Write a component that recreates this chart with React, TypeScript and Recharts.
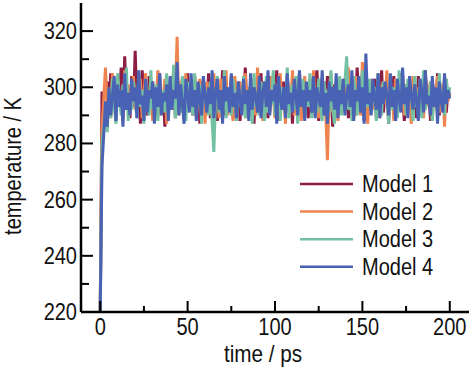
import React from "react";
import { LineChart, Line, XAxis, YAxis, Legend } from "recharts";

// time in ps, one frame per ps
const TIME = Array.from({ length: 201 }, (_, i) => i);

const MODEL_1 = [
  220, 298, 298, 296, 302, 291, 305, 294, 299, 288, 303, 297, 307, 290, 311, 295, 300, 289, 304, 293,
  313, 292, 301, 287, 306, 296, 299, 290, 304, 293, 302, 288, 300, 295, 305, 291, 298, 286, 303, 297,
  300, 292, 306, 289, 301, 297, 294, 303, 288, 299, 305, 292, 298, 290, 304, 296, 301, 287, 302, 294,
  299, 291, 305, 289, 300, 296, 303, 288, 298, 293, 306, 290, 301, 297, 292, 304, 289, 299, 295, 302,
  288, 300, 294, 307, 291, 298, 296, 303, 287, 301, 293, 299, 305, 290, 297, 302, 289, 304, 294, 300,
  292, 306, 288, 299, 296, 302, 290, 304, 295, 300, 287, 303, 293, 298, 305, 291, 299, 294, 301, 289,
  303, 296, 292, 300, 306, 288, 298, 294, 302, 290, 304, 297, 299, 286, 301, 295, 303, 291, 298, 300,
  293, 305, 289, 299, 296, 302, 290, 307, 294, 298, 301, 288, 304, 295, 292, 300, 297, 303, 289, 299,
  294, 306, 291, 298, 302, 287, 300, 296, 304, 290, 299, 293, 305, 297, 288, 301, 295, 303, 292, 298,
  300, 289, 304, 296, 299, 291, 306, 294, 298, 288, 302, 297, 293, 305, 290, 300, 295, 303, 291, 299,
  297,
];

const MODEL_2 = [
  220, 285, 296, 307, 293, 300, 289, 305, 297, 291, 303, 295, 299, 288, 306, 294, 301, 290, 298, 304,
  292, 300, 295, 303, 289, 298, 305, 291, 297, 302, 288, 300, 294, 306, 290, 299, 296, 303, 287, 301,
  295, 304, 292, 299, 318, 290, 302, 296, 288, 305, 293, 300, 297, 291, 304, 289, 298, 303, 294, 300,
  287, 302, 296, 299, 291, 305, 294, 300, 289, 303, 297, 292, 306, 290, 298, 301, 288, 304, 295, 299,
  302, 291, 297, 305, 289, 300, 294, 303, 296, 290, 307, 293, 299, 288, 302, 295, 300, 291, 304, 297,
  289, 301, 296, 305, 292, 298, 287, 303, 299, 294, 306, 290, 300, 295, 302, 288, 297, 304, 293, 299,
  301, 290, 306, 295, 298, 289, 303, 294, 300, 292, 274, 299, 305, 291, 297, 302, 288, 300, 296, 303,
  291, 298, 307, 293, 300, 288, 304, 296, 299, 290, 309, 294, 301, 287, 298, 303, 292, 300, 295, 305,
  289, 299, 302, 294, 306, 291, 297, 300, 288, 303, 295, 299, 292, 305, 290, 301, 296, 298, 287, 304,
  294, 300, 291, 303, 297, 289, 305, 293, 299, 302, 288, 300, 296, 304, 291, 298, 301, 286, 303, 295,
  298,
];

const MODEL_3 = [
  220, 280, 286, 291, 284, 299, 289, 303, 293, 287, 305, 296, 290, 301, 294, 307, 288, 298, 292, 302,
  296, 289, 304, 293, 299, 287, 302, 295, 290, 306, 292, 298, 301, 288, 303, 294, 299, 291, 305, 290,
  298, 293, 308, 289, 300, 295, 291, 304, 297, 288, 302, 294, 299, 290, 305, 292, 297, 301, 287, 303,
  294, 299, 290, 302, 288, 277, 296, 304, 291, 298, 293, 306, 289, 300, 295, 290, 303, 297, 288, 301,
  295, 292, 304, 289, 299, 296, 301, 287, 305, 293, 298, 290, 302, 296, 288, 304, 291, 299, 294, 306,
  290, 297, 302, 288, 300, 295, 293, 307, 289, 298, 301, 292, 304, 287, 299, 296, 303, 290, 298, 293,
  305, 289, 300, 296, 291, 303, 294, 288, 302, 297, 299, 291, 306, 293, 287, 300, 295, 304, 290, 298,
  302, 311, 292, 299, 288, 304, 296, 290, 301, 294, 306, 289, 298, 293, 303, 291, 297, 300, 288, 305,
  295, 290, 302, 297, 299, 287, 304, 292, 300, 296, 289, 306, 293, 298, 301, 290, 303, 295, 299, 288,
  304, 293, 297, 300, 289, 306, 292, 298, 295, 302, 288, 300, 296, 291, 305, 294, 299, 290, 303, 296,
  300,
];

const MODEL_4 = [
  220, 272, 283, 295, 286, 300, 290, 297, 304, 288, 301, 293, 299, 286, 305, 292, 298, 290, 303, 295,
  300, 289, 306, 294, 297, 288, 303, 291, 299, 296, 302, 287, 300, 293, 305, 290, 298, 295, 301, 288,
  304, 292, 299, 296, 309, 290, 301, 294, 287, 303, 297, 291, 305, 293, 299, 288, 302, 296, 290, 304,
  297, 291, 300, 294, 306, 289, 298, 303, 292, 299, 287, 304, 295, 300, 291, 305, 293, 298, 289, 302,
  296, 290, 303, 294, 299, 288, 305, 292, 300, 297, 291, 304, 289, 298, 302, 293, 306, 290, 299, 295,
  301, 287, 304, 296, 292, 300, 289, 305, 294, 298, 291, 303, 297, 290, 306, 293, 299, 288, 302, 295,
  299, 291, 304, 289, 300, 296, 293, 306, 290, 298, 287, 302, 295, 300, 292, 305, 289, 299, 294, 303,
  290, 297, 301, 293, 306, 288, 299, 295, 304, 291, 300, 287, 312, 294, 298, 290, 303, 296, 292, 305,
  289, 300, 294, 302, 297, 290, 305, 293, 299, 288, 303, 296, 291, 307, 294, 300, 289, 304, 297, 292,
  301, 295, 288, 303, 299, 291, 306, 294, 297, 290, 304, 293, 300, 287, 302, 296, 291, 305, 294, 299,
  296,
];

const SERIES = [
  { key: "m1", name: "Model 1", color: "#8c1d45", values: MODEL_1 },
  { key: "m2", name: "Model 2", color: "#ef8450", values: MODEL_2 },
  { key: "m3", name: "Model 3", color: "#74c0a2", values: MODEL_3 },
  { key: "m4", name: "Model 4", color: "#4a62b3", values: MODEL_4 },
];

const X_TICKS = [0, 25, 50, 75, 100, 125, 150, 175, 200];
const X_LABELS = [0, 50, 100, 150, 200];
const Y_TICKS = [220, 230, 240, 250, 260, 270, 280, 290, 300, 310, 320];
const Y_LABELS = [220, 240, 260, 280, 300, 320];

const FONT = "'Liberation Sans', Arial, sans-serif";

const data = TIME.map((t, i) => {
  const row: Record<string, number> = { t };
  SERIES.forEach((s) => {
    row[s.key] = s.values[i];
  });
  return row;
});

// ticks point into the plot, only every other one gets a label
const XTick = (props: any) => {
  const { x, y, payload } = props;
  const major = X_LABELS.includes(payload.value);
  return (
    <g>
      <line x1={x} x2={x} y1={y} y2={y - (major ? 11 : 6)} stroke="#000" strokeWidth={2} />
      {major && (
        <text
          transform={`translate(${x},${y + 23}) scale(0.87,1)`}
          textAnchor="middle"
          fontSize={23}
          fontFamily={FONT}
          fill="#111"
        >
          {payload.value}
        </text>
      )}
    </g>
  );
};

const YTick = (props: any) => {
  const { x, y, payload } = props;
  const major = Y_LABELS.includes(payload.value);
  return (
    <g>
      <line x1={x} x2={x + (major ? 12 : 8)} y1={y} y2={y} stroke="#000" strokeWidth={2} />
      {major && (
        <text
          transform={`translate(${x - 4},${y + 8}) scale(0.87,1)`}
          textAnchor="end"
          fontSize={23}
          fontFamily={FONT}
          fill="#111"
        >
          {payload.value}
        </text>
      )}
    </g>
  );
};

const renderLegend = (props: any) => {
  const items = props.payload || [];
  return (
    <svg width={170} height={120}>
      {items.map((item: any, i: number) => (
        <g key={item.value} transform={`translate(0,${14 + i * 27.6})`}>
          <line x1={0} x2={53} y1={0} y2={0} stroke={item.color} strokeWidth={2.5} />
          <text
            transform="translate(62,8) scale(0.87,1)"
            fontSize={23}
            fontFamily={FONT}
            fill="#111"
          >
            {item.value}
          </text>
        </g>
      ))}
    </svg>
  );
};

export default function App() {
  return (
    <div style={{ position: "absolute", left: 0, top: 0, width: 474, height: 370, background: "#fff" }}>
      <LineChart width={474} height={370} data={data} margin={{ top: 3, right: 5, left: 0, bottom: 0 }}>
        <XAxis
          dataKey="t"
          type="number"
          domain={[-11, 211]}
          ticks={X_TICKS}
          interval={0}
          tickSize={0}
          tickMargin={0}
          tick={<XTick />}
          height={58}
          axisLine={{ stroke: "#000", strokeWidth: 2.5 }}
          tickLine={false}
        />
        <XAxis
          xAxisId="top"
          orientation="top"
          type="number"
          domain={[-11, 211]}
          height={0}
          tick={false}
          tickLine={false}
          axisLine={{ stroke: "#000", strokeWidth: 2.5 }}
        />
        <YAxis
          type="number"
          domain={[220, 330]}
          ticks={Y_TICKS}
          interval={0}
          tickSize={0}
          tickMargin={0}
          tick={<YTick />}
          width={81}
          allowDataOverflow
          axisLine={{ stroke: "#000", strokeWidth: 2.5 }}
          tickLine={false}
        />
        <YAxis
          yAxisId="right"
          orientation="right"
          type="number"
          domain={[220, 330]}
          width={0}
          tick={false}
          tickLine={false}
          axisLine={{ stroke: "#000", strokeWidth: 2.5 }}
        />
        {SERIES.map((s) => (
          <Line
            key={s.key}
            dataKey={s.key}
            name={s.name}
            stroke={s.color}
            strokeWidth={3}
            strokeLinejoin="miter"
            dot={false}
            activeDot={false}
            type="linear"
            isAnimationActive={false}
          />
        ))}
        <Legend
          layout="vertical"
          align="center"
          verticalAlign="middle"
          content={renderLegend}
          wrapperStyle={{ position: "absolute", left: 300, top: 170, width: 170, height: 120 }}
        />
      </LineChart>
      <svg
        width={474}
        height={370}
        style={{ position: "absolute", left: 0, top: 0, pointerEvents: "none" }}
      >
        <text
          transform="translate(263,362) scale(0.9,1)"
          textAnchor="middle"
          fontSize={23}
          fontFamily={FONT}
          fill="#111"
        >
          time / ps
        </text>
        <text
          transform="translate(13,166) rotate(-90) scale(0.87,1)"
          textAnchor="middle"
          dominantBaseline="central"
          fontSize={23}
          fontFamily={FONT}
          fill="#111"
        >
          temperature / K
        </text>
      </svg>
    </div>
  );
}
